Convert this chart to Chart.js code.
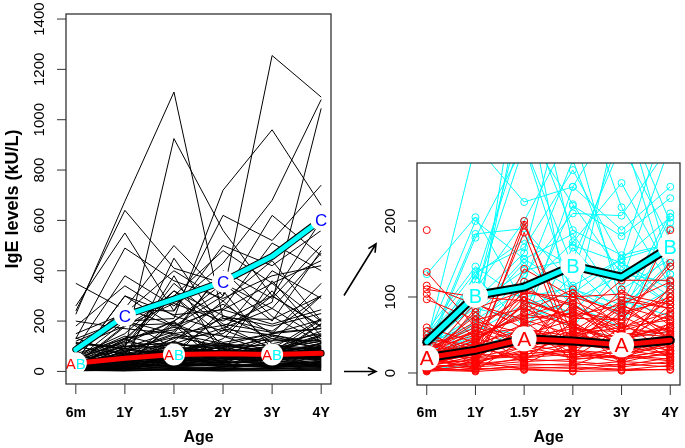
<!DOCTYPE html>
<html>
<head>
<meta charset="utf-8">
<script src="https://cdn.jsdelivr.net/npm/chart.js@4"></script>
<style>
  body { margin: 0; background: #fff; }
  canvas { position: absolute; top: 0; }
  #left { left: 0; }
  #right { left: 340px; }
</style>
</head>
<body>
<canvas id="left" width="340" height="448"></canvas>
<canvas id="right" width="345" height="448"></canvas>
<script>
// x categories and axis ticks
const ageLabels = ['6m', '1Y', '1.5Y', '2Y', '3Y', '4Y'];
const leftTicks = [0, 200, 400, 600, 800, 1000, 1200, 1400];
const rightTicks = [0, 100, 200];

// class means
const meanAB = [32, 52, 67, 70, 67, 72];
const meanC = [87, 222, 287, 357, 457, 603];
const meanA = [20, 30, 45, 42, 37, 43];
const meanB = [41, 102, 113, 141, 126, 166];

// individual children, class C (high IgE)
const classC = [
  [227, 676, 1110, 210, 160, 300],
  [110, 90, 925, 560, 300, 180],
  [null, 250, 180, 300, 1255, 1090],
  [120, 200, 210, 720, 960, 660],
  [60, 150, 320, 180, 275, 1045],
  [90, 380, 260, 430, 680, 1080],
  [240, 640, 410, 350, 200, 480],
  [130, 490, 360, 290, 380, 420],
  [350, 245, 240, 620, 520, 740],
  [260, 550, 240, 500, 420, 560],
  [80, 250, 500, 300, 620, 460],
  [200, 170, 150, 400, 290, 500],
  [70, 130, 300, 480, 350, 440],
  [40, 300, 180, 250, 510, 400],
  [150, 230, 400, 280, 440, 200],
  [100, 180, 270, 200, 300, 600],
  [50, 120, 200, 350, 250, 470],
  [180, 340, 220, 160, 400, 290]
];

// class B (moderate)
const classB = [
  [130, 205, 90, 60, 45, 55],
  [45, 200, 150, 110, 90, 130],
  [30, 183, 190, 115, 150, 170],
  [25, 178, 300, 140, 75, 110],
  [4, 12, null, null, null, null],
  [50, 133, 165, 267, 150, 205],
  [35, 128, 60, 245, 350, 198],
  [20, 122, 320, 222, 130, 90],
  [40, 300, 225, 245, 188, 245],
  [15, 95, 158, 400, 218, 115],
  [30, 60, 130, 210, 207, 300],
  [45, 100, 350, 188, 155, 170],
  [20, 80, 150, 183, 90, 210],
  [10, 70, 110, 172, 250, 130],
  [25, 40, 450, 168, 145, 110],
  [35, 90, 135, 150, 300, 175],
  [50, 115, 100, 112, 75, 205],
  [15, 55, 90, 105, 150, 350],
  [40, 65, 380, 60, 140, 90],
  [30, 110, 200, 320, 88, 160],
  [45, 85, 70, 95, 130, 120],
  [20, 50, 120, 280, 110, 150],
  [10, 30, 60, 130, 320, 115],
  [35, 75, 145, 90, 60, 190],
  [25, 105, 300, 100, 85, 145],
  [55, 140, 95, 80, 145, 100],
  [15, 45, 80, 220, 180, 230],
  [30, 100, 115, 75, 360, 140],
  [40, 60, 50, 165, 95, 75],
  [20, 130, 175, 140, 120, 300]
];

// class A (low)
const classA = [
  [188, null, null, null, null, null],
  [133, 60, 40, 55, 30, 45],
  [115, 90, 70, 50, 60, 80],
  [110, 100, 95, 75, 90, 120],
  [104, 45, 30, 20, 35, 25],
  [97, 70, 85, 60, 45, 55],
  [60, 40, 200, 30, 20, 40],
  [55, 20, 195, 50, 40, 30],
  [50, 30, 185, 20, 60, 70],
  [45, 10, 137, 100, 104, 90],
  [40, 25, 50, 70, 122, 122],
  [35, 15, 30, 45, 50, 188],
  [30, 50, 60, 80, 70, 145],
  [28, 35, 45, 40, 30, 115],
  [25, 20, 25, 30, 25, 35],
  [22, 12, 18, 15, 10, 20],
  [20, 30, 40, 35, 45, 60],
  [18, 8, 12, 10, 15, 12],
  [15, 25, 20, 25, 20, 30],
  [12, 5, 8, 6, 4, 10],
  [10, 18, 22, 28, 18, 25],
  [8, 12, 35, 20, 28, 40],
  [6, 4, 10, 12, 8, 15],
  [5, 15, 5, 3, 12, 8],
  [4, 2, 6, 8, 5, 4],
  [3, 10, 15, 18, 22, 16],
  [2, 6, 4, 2, 3, 5],
  [14, 40, 90, 65, 38, 50],
  [24, 55, 105, 100, 80, 95],
  [16, 35, 65, 85, 55, 75],
  [9, 22, 48, 58, 42, 65],
  [12, 28, 55, 45, 75, 100],
  [26, 45, 80, 110, 60, 50],
  [32, 60, 100, 70, 100, 85],
  [7, 14, 28, 38, 30, 22],
  [11, 26, 38, 26, 14, 28],
  [19, 48, 75, 95, 65, 110],
  [21, 38, 58, 48, 88, 70],
  [13, 24, 110, 90, 50, 60],
  [27, 65, 42, 62, 40, 35],
  [4, 9, 20, 32, 48, 58],
  [33, 18, 62, 18, 24, 18],
  [17, 80, 30, 105, 75, 45],
  [23, 42, 88, 36, 36, 105],
  [6, 32, 22, 55, 95, 85],
  [38, 52, 72, 78, 52, 48],
  [29, 68, 52, 42, 110, 62],
  [14, 16, 95, 72, 70, 140],
  [9, 85, 108, 88, 58, 95],
  [45, 36, 15, 68, 26, 38],
  [3, 20, 35, 105, 20, 30],
  [18, 6, 68, 24, 82, 55],
  [25, 75, 25, 92, 44, 78],
  [8, 33, 100, 10, 33, 90],
  [30, 56, 32, 52, 66, 26],
  [12, 44, 78, 64, 12, 68],
  [20, 92, 58, 34, 92, 44],
  [5, 3, 45, 82, 40, 100],
  [36, 24, 120, 58, 54, 20],
  [15, 58, 12, 40, 86, 52]
];

const RED = '#ff0000', CYAN = '#00ffff', BLUE = '#0000ff';
const FONT = '"Liberation Sans", Arial, sans-serif';

function pts(vals) {
  return vals.map((v, i) => ({ x: i, y: v }));
}

function thin(vals, color, withPoints, order) {
  return {
    data: pts(vals),
    borderColor: color,
    borderWidth: 1,
    pointRadius: withPoints ? 3.5 : 0,
    pointBorderWidth: 1,
    pointBorderColor: color,
    pointBackgroundColor: 'rgba(0,0,0,0)',
    spanGaps: false,
    order: order
  };
}

function thick(vals, color, width, order) {
  return {
    data: pts(vals),
    borderColor: color,
    borderWidth: width,
    borderCapStyle: 'round',
    borderJoinStyle: 'round',
    pointRadius: 0,
    order: order
  };
}

// R-like axes, box and circled class labels
function rAxes(o) {
  return {
    id: 'rAxes',
    afterDatasetsDraw(chart) {
      const { ctx, chartArea: a, scales: { x, y } } = chart;
      ctx.save();

      o.labels.forEach(l => {
        l.at.forEach(i => {
          const px = x.getPixelForValue(i), py = y.getPixelForValue(l.values[i]);
          ctx.beginPath();
          ctx.arc(px, py, o.r, 0, Math.PI * 2);
          ctx.fillStyle = '#fff';
          ctx.fill();
          ctx.font = l.size + 'px ' + FONT;
          ctx.textAlign = 'left';
          ctx.textBaseline = 'alphabetic';
          let w = 0;
          l.parts.forEach(p => { w += ctx.measureText(p[0]).width; });
          let cx = px - w / 2;
          l.parts.forEach(p => {
            ctx.fillStyle = p[1];
            ctx.fillText(p[0], cx, py + l.size * 0.36);
            cx += ctx.measureText(p[0]).width;
          });
        });
      });

      ctx.strokeStyle = '#333';
      ctx.lineWidth = 1.3;
      ctx.strokeRect(a.left, a.top, a.right - a.left, a.bottom - a.top);

      // x axis
      ctx.lineWidth = 1;
      ctx.fillStyle = '#000';
      ctx.font = 'bold 14px ' + FONT;
      ctx.textAlign = 'center';
      ageLabels.forEach((lab, i) => {
        const px = x.getPixelForValue(i);
        ctx.beginPath();
        ctx.moveTo(px, a.bottom);
        ctx.lineTo(px, a.bottom + 10);
        ctx.stroke();
        ctx.fillText(lab, px, 417);
      });
      ctx.font = 'bold 16px ' + FONT;
      ctx.fillText('Age', (a.left + a.right) / 2, 442);

      // y axis
      ctx.font = '15px ' + FONT;
      o.ticks.forEach(t => {
        const py = y.getPixelForValue(t);
        ctx.beginPath();
        ctx.moveTo(a.left, py);
        ctx.lineTo(a.left - 9, py);
        ctx.stroke();
        ctx.save();
        ctx.translate(a.left - 22, py);
        ctx.rotate(-Math.PI / 2);
        ctx.fillText(String(t), 0, 0);
        ctx.restore();
      });
      if (o.title) {
        ctx.save();
        ctx.font = 'bold 18px ' + FONT;
        ctx.translate(18, (a.top + a.bottom) / 2);
        ctx.rotate(-Math.PI / 2);
        ctx.fillText(o.title, 0, 0);
        ctx.restore();
      }
      if (o.arrows) o.arrows(ctx, y);
      ctx.restore();
    }
  };
}

function arrow(ctx, x0, y0, x1, y1) {
  const ang = Math.atan2(y1 - y0, x1 - x0), len = 9;
  ctx.strokeStyle = '#000';
  ctx.lineWidth = 1.6;
  ctx.beginPath();
  ctx.moveTo(x0, y0);
  ctx.lineTo(x1, y1);
  ctx.moveTo(x1 - len * Math.cos(ang - 0.45), y1 - len * Math.sin(ang - 0.45));
  ctx.lineTo(x1, y1);
  ctx.lineTo(x1 - len * Math.cos(ang + 0.45), y1 - len * Math.sin(ang + 0.45));
  ctx.stroke();
}

function baseOptions(pad, ymin, ymax) {
  return {
    responsive: false,
    animation: false,
    devicePixelRatio: 1,
    layout: { padding: pad },
    plugins: { legend: { display: false }, tooltip: { enabled: false } },
    scales: {
      x: { type: 'linear', min: -0.2, max: 5.2, display: false },
      y: { type: 'linear', min: ymin, max: ymax, display: false }
    }
  };
}

// left panel: all children in black
const leftSets = []
  .concat(classC.map(v => thin(v, '#000', false, 10)))
  .concat(classA.map(v => thin(v, '#000', false, 10)))
  .concat(classB.map(v => thin(v, '#000', false, 10)))
  .concat([
    thick(meanAB, '#000', 7, 4), thick(meanAB, RED, 5, 3),
    thick(meanC, '#000', 7, 2), thick(meanC, CYAN, 5, 1)
  ]);

new Chart(document.getElementById('left'), {
  type: 'line',
  data: { datasets: leftSets },
  options: baseOptions({ left: 66, right: 9, top: 14, bottom: 64 }, -50, 1420),
  plugins: [rAxes({
    ticks: leftTicks,
    title: 'IgE levels (kU/L)',
    r: 11,
    labels: [
      { values: meanAB, at: [0, 2, 4], size: 15, parts: [['A', RED], ['B', CYAN]] },
      { values: meanC, at: [1, 3, 5], size: 17, parts: [['C', BLUE]] }
    ]
  })]
});

// right panel: zoom on classes A and B
const rightSets = []
  .concat(classB.map(v => thin(v, CYAN, true, 6)))
  .concat(classA.map(v => thin(v, RED, true, 5)))
  .concat([
    thick(meanB, '#000', 9, 4), thick(meanB, CYAN, 5, 3),
    thick(meanA, '#000', 9, 2), thick(meanA, RED, 5, 1)
  ]);

new Chart(document.getElementById('right'), {
  type: 'line',
  data: { datasets: rightSets },
  options: baseOptions({ left: 77, right: 4, top: 163, bottom: 63 }, -15.8, 276.3),
  plugins: [rAxes({
    ticks: rightTicks,
    r: 12.5,
    labels: [
      { values: meanA, at: [0, 2, 4], size: 21, parts: [['A', RED]] },
      { values: meanB, at: [1, 3, 5], size: 20, parts: [['B', CYAN]] }
    ],
    arrows(ctx, y) {
      arrow(ctx, 4, y.getPixelForValue(102), 36, y.getPixelForValue(170));
      arrow(ctx, 4, y.getPixelForValue(2), 36, y.getPixelForValue(2));
    }
  })]
});
</script>
</body>
</html>
